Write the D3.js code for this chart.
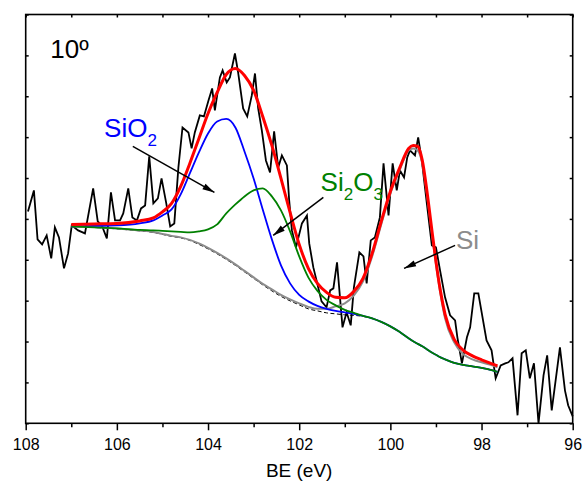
<!DOCTYPE html>
<html>
<head>
<meta charset="utf-8">
<script src="https://cdn.jsdelivr.net/npm/d3@7"></script>
<style>
  body { margin: 0; background: #fff; }
  svg text { font-family: "Liberation Sans", Arial, sans-serif; }
</style>
</head>
<body>
<div id="chart"></div>
<script>
const width = 584;
const height = 481;
const margin = { top: 14.5, right: 11.3, bottom: 57.7, left: 25.7 };

// Raw Si 2p spectrum (binding energy in eV, intensity in a.u.)
const rawBE = [107.95, 107.82, 107.74, 107.64, 107.54, 107.44, 107.36, 107.27, 107.16, 107.07,
  106.99, 106.85, 106.70, 106.52, 106.42, 106.33, 106.22, 106.13, 106.04, 105.93,
  105.86, 105.75, 105.66, 105.56, 105.47, 105.38, 105.29, 105.20, 105.10, 105.02,
  104.92, 104.83, 104.74, 104.65, 104.56, 104.43, 104.36, 104.29, 104.18, 104.09,
  103.99, 103.91, 103.85, 103.74, 103.68, 103.59, 103.52, 103.41, 103.34, 103.23,
  103.14, 103.04, 102.97, 102.90, 102.82, 102.73, 102.64, 102.55, 102.46, 102.38,
  102.27, 102.22, 102.16, 102.07, 101.94, 101.83, 101.78, 101.69, 101.62, 101.51,
  101.40, 101.32, 101.25, 101.17, 101.05, 100.96, 100.87, 100.80, 100.68, 100.59,
  100.52, 100.43, 100.34, 100.23, 100.15, 100.04, 99.95, 99.86, 99.79, 99.70,
  99.63, 99.57, 99.46, 99.39, 99.31, 99.20, 99.09, 99.00, 98.91, 98.80,
  98.69, 98.58, 98.53, 98.43, 98.32, 98.25, 98.16, 98.07, 97.89, 97.78,
  97.69, 97.58, 97.48, 97.41, 97.32, 97.21, 97.12, 97.03, 96.94, 96.85,
  96.75, 96.64, 96.56, 96.46, 96.28, 96.17, 96.10, 96.00];
const rawCounts = [212, 233, 184, 179, 188, 165, 196, 186, 155, 170,
  198, 193, 190, 235, 202, 198, 185, 231, 203, 203,
  210, 235, 206, 203, 215, 218, 267, 220, 225, 245,
  221, 197, 200, 256, 296, 291, 275, 291, 308, 307,
  323, 335, 313, 346, 353, 341, 346, 370, 351, 315,
  307, 328, 350, 315, 293, 263, 251, 292, 256, 268,
  258, 223, 193, 176, 200, 208, 180, 156, 143, 122,
  116, 133, 135, 161, 96, 111, 98, 136, 171, 167,
  140, 183, 186, 206, 260, 208, 260, 233, 253, 246,
  266, 273, 268, 286, 263, 220, 178, 176, 153, 126,
  108, 103, 86, 60, 86, 96, 130, 130, 83, 73,
  45, 58, 60, 61, 65, 8, 70, 73, 45, 60,
  0, 48, 68, 13, 76, 33, 18, 7];

// Fit curves, sampled on a common energy grid
const fitBE = [107.0, 106.5, 106.0, 105.5, 105.2, 105.0, 104.8, 104.6, 104.4, 104.2,
  104.0, 103.8, 103.6, 103.4, 103.2, 103.0, 102.8, 102.6, 102.4, 102.2,
  102.0, 101.8, 101.6, 101.4, 101.2, 101.0, 100.8, 100.6, 100.4, 100.2,
  100.0, 99.8, 99.6, 99.5, 99.4, 99.3, 99.2, 99.1, 99.0, 98.9,
  98.8, 98.6, 98.4, 98.2, 98.0, 97.8, 97.65];
const envelope = [199, 199.5, 200, 202.5, 205.5, 211.5, 220, 237, 260, 285,
  310, 331, 349, 355, 348, 333, 307, 278, 245, 211,
  179, 155, 140, 131, 126, 125.5, 132, 145, 170, 202,
  232, 255, 275, 278, 277, 263, 233, 197, 162, 132,
  109, 84, 73, 67.5, 63.5, 60, 57.5];
const sio2 = [197, 197.5, 198, 200, 203, 208, 214, 229, 250, 271,
  290, 302, 304.5, 296, 272, 245, 214, 184, 158, 140,
  128.5, 122, 117.5, 114.5, 112.5, 111, 109.5, 107.5, 105, 101.5,
  97, 91.5, 85, 82, 79.5, 77, 74, 71, 68.5, 66,
  64, 60.5, 58.5, 57, 55.5, 53.5, 51.5];
const si2o3 = [197, 196, 195, 193.5, 193, 192.5, 192, 191.5, 191, 192,
  194, 199, 210, 219, 227, 233, 235, 227, 213, 192,
  167, 146, 132.5, 123.5, 118, 113.5, 110.5, 107.5, 105, 101.5,
  97, 91.5, 85, 82, 79.5, 77, 74, 71, 68.5, 66,
  64, 60.5, 58.5, 57, 55.5, 53.5, 51.5];
const siPeak = [197, 196.5, 195, 193, 191.5, 189.5, 187.5, 186, 183.5, 180,
  175.5, 170.5, 165, 159, 152.5, 146, 139.5, 134, 128.5, 124,
  120, 116.5, 114.5, 114.5, 117, 120, 128, 142, 167, 199,
  230, 253, 273, 275, 273, 260, 230, 194, 159, 129,
  105, 81, 69, 64, 61, 58.5, 56];
const background = [197, 196, 194.5, 192.5, 191, 189, 187, 185.5, 183, 179,
  174.5, 169.5, 164, 158, 151.5, 145, 138.5, 132.5, 127, 122.5,
  118.5, 114.5, 112.5, 110.5, 109.5, 108.5, 108, 107, 105, 101.5,
  97, 91.5, 85, 82, 79.5, 77, 74, 71, 68.5, 66,
  64, 60.5, 58.5, 57, 55.5, 53.5, 51.5];

const xMajor = [108, 106, 104, 102, 100, 98, 96];
const xMinor = [107, 105, 103, 101, 99, 97];
const xTop = d3.range(96, 109, 1);
const yTicks = d3.range(0, 11).map(i => i * 40.9);

// Annotations: label text, anchor and arrow in data coordinates
const labels = [
  { text: "SiO", sub: "2", tail: "", color: "#0000ff", be: 106.28, v: 286 },
  { text: "Si", sub: "2", tail: "O", sub2: "3", color: "#008000", be: 101.53, v: 232 },
  { text: "Si", sub: "", tail: "", color: "#8c8c8c", be: 98.56, v: 174 }
];
const arrows = [
  { from: [105.65, 277], to: [103.86, 231] },
  { from: [101.47, 226], to: [102.57, 188] },
  { from: [98.58, 178], to: [99.70, 155] }
];

const svg = d3.select("#chart")
  .append("svg")
  .attr("width", width)
  .attr("height", height);

const x = d3.scaleLinear()
  .domain([108, 96])
  .range([margin.left, width - margin.right]);

const y = d3.scaleLinear()
  .domain([0, 409])
  .range([height - margin.bottom, margin.top]);

const defs = svg.append("defs");
defs.append("marker")
  .attr("id", "arrow")
  .attr("viewBox", "0 0 12 8")
  .attr("refX", 12)
  .attr("refY", 4)
  .attr("markerUnits", "userSpaceOnUse")
  .attr("markerWidth", 13)
  .attr("markerHeight", 8)
  .attr("orient", "auto")
  .append("path")
  .attr("d", "M0,0.8 L12,4 L0,7.2 Z")
  .attr("fill", "#000");

// raw spectrum
const rawLine = d3.line()
  .x((d, i) => x(rawBE[i]))
  .y(d => y(d));

svg.append("path")
  .datum(rawCounts)
  .attr("fill", "none")
  .attr("stroke", "#000")
  .attr("stroke-width", 1.8)
  .attr("stroke-linejoin", "miter")
  .attr("d", rawLine);

// fitted components
const fitLine = d3.line()
  .x((d, i) => x(fitBE[i]))
  .y(d => y(d))
  .curve(d3.curveMonotoneX);

const fits = [
  { values: background, color: "#000", w: 1, dash: "4,2.5" },
  { values: siPeak, color: "#8c8c8c", w: 2, dash: null },
  { values: sio2, color: "#0000ff", w: 1.8, dash: null },
  { values: si2o3, color: "#008000", w: 1.8, dash: null },
  { values: envelope, color: "#ff0000", w: 3, dash: null }
];

svg.selectAll(".fit")
  .data(fits)
  .join("path")
  .attr("class", "fit")
  .attr("fill", "none")
  .attr("stroke", d => d.color)
  .attr("stroke-width", d => d.w)
  .attr("stroke-dasharray", d => d.dash)
  .attr("d", d => fitLine(d.values));

// frame
svg.append("rect")
  .attr("x", margin.left)
  .attr("y", margin.top)
  .attr("width", width - margin.left - margin.right)
  .attr("height", height - margin.top - margin.bottom)
  .attr("fill", "none")
  .attr("stroke", "#000")
  .attr("stroke-width", 1.6);

// axes
const axisB = svg.append("g")
  .attr("transform", `translate(0,${height - margin.bottom})`)
  .call(d3.axisBottom(x).tickValues(xMajor).tickSize(7).tickPadding(8).tickFormat(d3.format("d")));
axisB.select(".domain").remove();
axisB.selectAll("line").attr("stroke-width", 1.5);
axisB.selectAll("text")
  .attr("font-size", 16)
  .attr("font-family", "Liberation Sans, Arial, sans-serif")
  .attr("fill", "#000");

const axisBMinor = svg.append("g")
  .attr("transform", `translate(0,${height - margin.bottom})`)
  .call(d3.axisBottom(x).tickValues(xMinor).tickSize(4).tickFormat(""));
axisBMinor.select(".domain").remove();
axisBMinor.selectAll("line").attr("stroke-width", 1.5);

const axisT = svg.append("g")
  .attr("transform", `translate(0,${margin.top})`)
  .call(d3.axisTop(x).tickValues(xTop).tickSize(-3).tickFormat(""));
axisT.select(".domain").remove();
axisT.selectAll("line").attr("stroke-width", 1.5);

const axisL = svg.append("g")
  .attr("transform", `translate(${margin.left},0)`)
  .call(d3.axisLeft(y).tickValues(yTicks).tickSize(-3).tickFormat(""));
axisL.select(".domain").remove();
axisL.selectAll("line").attr("stroke-width", 1.5);

const axisR = svg.append("g")
  .attr("transform", `translate(${width - margin.right},0)`)
  .call(d3.axisRight(y).tickValues(yTicks).tickSize(-3).tickFormat(""));
axisR.select(".domain").remove();
axisR.selectAll("line").attr("stroke-width", 1.5);

svg.append("text")
  .attr("x", x(102))
  .attr("y", 477)
  .attr("text-anchor", "middle")
  .attr("font-size", 19)
  .text("BE (eV)");

svg.append("text")
  .attr("x", x(107.46))
  .attr("y", y(365))
  .attr("font-size", 26)
  .text("10º");

// component labels
labels.forEach(l => {
  const t = svg.append("text")
    .attr("x", x(l.be))
    .attr("y", y(l.v))
    .attr("font-size", 26)
    .attr("fill", l.color);
  t.append("tspan").text(l.text);
  if (l.sub) t.append("tspan").attr("font-size", 17).attr("dy", 9).text(l.sub);
  if (l.tail) t.append("tspan").attr("dy", -9).text(l.tail);
  if (l.sub2) t.append("tspan").attr("font-size", 17).attr("dy", 9).text(l.sub2);
});

svg.selectAll(".arrow")
  .data(arrows)
  .join("line")
  .attr("class", "arrow")
  .attr("x1", d => x(d.from[0]))
  .attr("y1", d => y(d.from[1]))
  .attr("x2", d => x(d.to[0]))
  .attr("y2", d => y(d.to[1]))
  .attr("stroke", "#000")
  .attr("stroke-width", 1.5)
  .attr("marker-end", "url(#arrow)");
</script>
</body>
</html>
